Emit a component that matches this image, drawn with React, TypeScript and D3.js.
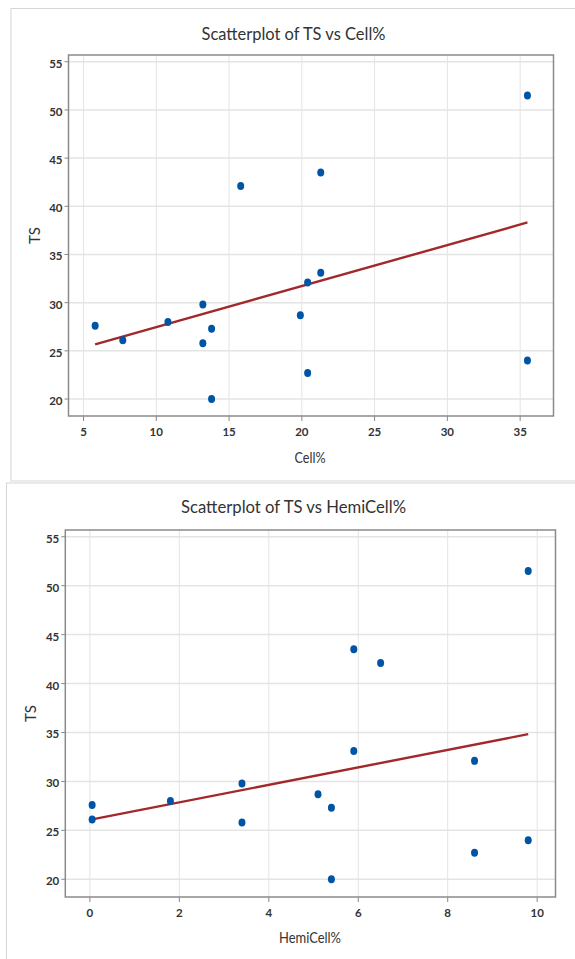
import React from "react";
import * as d3 from "d3";

const tsValues = [27.6, 26.1, 28.0, 29.8, 25.8, 27.3, 20.0, 42.1, 28.7, 32.1, 22.7, 33.1, 43.5, 51.5, 24.0];
const cellValues = [5.8, 7.7, 10.8, 13.2, 13.2, 13.8, 13.8, 15.8, 19.9, 20.4, 20.4, 21.3, 21.3, 35.5, 35.5];
const hemiValues = [0.05, 0.05, 1.8, 3.4, 3.4, 5.4, 5.4, 6.5, 5.1, 8.6, 8.6, 5.9, 5.9, 9.8, 9.8];
const yTicks = [20, 25, 30, 35, 40, 45, 50, 55];
const cellTicks = [5, 10, 15, 20, 25, 30, 35];
const hemiTicks = [0, 2, 4, 6, 8, 10];

const FONT = "Lato, 'Noto Sans', sans-serif";
const POINT = "#0054a6";
const LINE = "#a2282b";

type PanelProps = {
  title: string;
  titleW: number;
  xLabel: string;
  xLabelW: number;
  xs: number[];
  ys: number[];
  xTicks: number[];
  xDomain: [number, number];
  yDomain: [number, number];
  box: { x0: number; x1: number; y0: number; y1: number };
  titleY: number;
  xLabelY: number;
  yLabelX: number;
};

function fit(xs: number[], ys: number[]) {
  const mx = d3.mean(xs)!;
  const my = d3.mean(ys)!;
  let sxy = 0, sxx = 0;
  xs.forEach((x, i) => {
    sxy += (x - mx) * (ys[i] - my);
    sxx += (x - mx) * (x - mx);
  });
  const b = sxy / sxx;
  return { b, a: my - b * mx };
}

function Panel(p: PanelProps) {
  const x = d3.scaleLinear().domain(p.xDomain).range([p.box.x0, p.box.x1]);
  const y = d3.scaleLinear().domain(p.yDomain).range([p.box.y1, p.box.y0]);
  const { a, b } = fit(p.xs, p.ys);
  const [xmin, xmax] = d3.extent(p.xs) as [number, number];
  const line = d3.line<number>().x((v) => x(v)).y((v) => y(a + b * v));
  return (
    <g>
      <text
        x={293.5 - p.titleW / 2}
        y={p.titleY}
        textLength={p.titleW}
        lengthAdjust="spacingAndGlyphs"
        fontFamily={FONT}
        fontSize={17.5}
        fill="#333"
      >
        {p.title}
      </text>
      {p.xTicks.map((t) => (
        <g key={"gx" + t}>
          <line x1={x(t)} x2={x(t)} y1={p.box.y0} y2={p.box.y1} stroke="#e4e4e4" strokeWidth={1} />
          <line x1={x(t)} x2={x(t)} y1={p.box.y1} y2={p.box.y1 + 5} stroke="#888" strokeWidth={1} />
          <text x={x(t)} y={p.box.y1 + 19.5} textAnchor="middle" fontFamily={FONT} fontSize={11.5} fontWeight={700} fill="#333">
            {t}
          </text>
        </g>
      ))}
      {yTicks.map((t) => (
        <g key={"gy" + t}>
          <line x1={p.box.x0} x2={p.box.x1} y1={y(t)} y2={y(t)} stroke="#e4e4e4" strokeWidth={1.5} />
          <line x1={p.box.x0 - 4} x2={p.box.x0} y1={y(t)} y2={y(t)} stroke="#888" strokeWidth={1} />
          <text x={p.box.x0 - 6} y={y(t) + 6} textAnchor="end" fontFamily={FONT} fontSize={11.5} fontWeight={700} fill="#333">
            {t}
          </text>
        </g>
      ))}
      <rect x={p.box.x0} y={p.box.y0} width={p.box.x1 - p.box.x0} height={p.box.y1 - p.box.y0} fill="none" stroke="#8a8a8a" strokeWidth={1.5} />
      <path d={line([xmin, xmax]) || ""} fill="none" stroke={LINE} strokeWidth={2.4} />
      {p.xs.map((v, i) => (
        <ellipse key={"p" + i} cx={x(v)} cy={y(p.ys[i])} rx={3.5} ry={4} fill={POINT} />
      ))}
      <text
        x={310 - p.xLabelW / 2}
        y={p.xLabelY}
        textLength={p.xLabelW}
        lengthAdjust="spacingAndGlyphs"
        fontFamily={FONT}
        fontSize={16}
        fill="#333"
      >
        {p.xLabel}
      </text>
      <text
        transform={`translate(${p.yLabelX},${(p.box.y0 + p.box.y1) / 2}) rotate(-90)`}
        textAnchor="middle"
        fontFamily={FONT}
        fontSize={15}
        fill="#333"
      >
        TS
      </text>
    </g>
  );
}

export default function App() {
  return (
    <svg width={575} height={959} style={{ position: "absolute", left: 0, top: 0, background: "#fff" }}>
      <rect x={11} y={8.5} width={575} height={472.5} fill="none" stroke="#d6d6d6" strokeWidth={1} />
      <rect x={6.5} y={483} width={575} height={500} fill="none" stroke="#d6d6d6" strokeWidth={1} />
      <Panel
        title="Scatterplot of TS vs Cell%"
        titleW={184}
        xLabel="Cell%"
        xLabelW={31}
        xs={cellValues}
        ys={tsValues}
        xTicks={cellTicks}
        xDomain={[3.97, 37.29]}
        yDomain={[18.24, 55.7]}
        box={{ x0: 68.5, x1: 553.5, y0: 55, y1: 416 }}
        titleY={40}
        xLabelY={463}
        yLabelX={40}
      />
      <Panel
        title="Scatterplot of TS vs HemiCell%"
        titleW={225}
        xLabel="HemiCell%"
        xLabelW={62}
        xs={hemiValues}
        ys={tsValues}
        xTicks={hemiTicks}
        xDomain={[-0.55, 10.41]}
        yDomain={[18.19, 55.69]}
        box={{ x0: 65.3, x1: 555.5, y0: 530, y1: 897 }}
        titleY={513}
        xLabelY={943}
        yLabelX={36}
      />
    </svg>
  );
}
